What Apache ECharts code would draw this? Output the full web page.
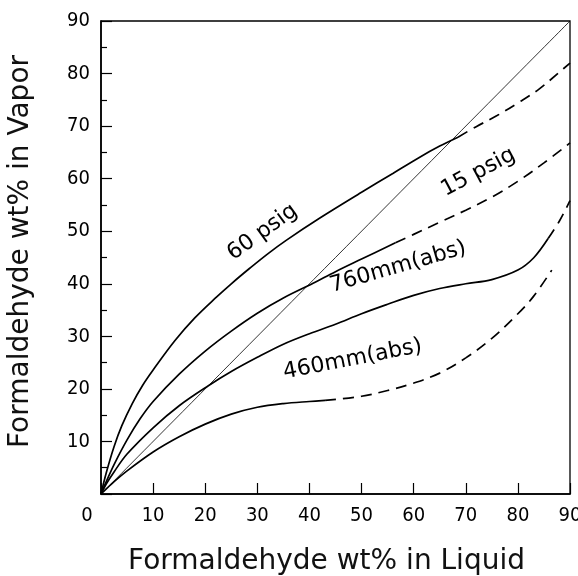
<!DOCTYPE html>
<html><head><meta charset="utf-8">
<script src="https://cdn.jsdelivr.net/npm/echarts@6/dist/echarts.min.js"></script>
<style>html,body{margin:0;padding:0;background:#fff}#c{width:578px;height:576px}</style>
</head><body><div id="c"></div>
<script>
// ---- data ----
const axisTicks = [0, 10, 20, 30, 40, 50, 60, 70, 80, 90];
const diagonal = [[0, 0], [90, 90]];
const psig60Solid = [[0,0],[1,4],[2.5,9],[4,13],[6,17.2],[8,20.7],[10,23.6],[14.2,29.2],[18,33.5],[22.2,37.5],[25,40],[28.6,43],[32,45.7],[35.6,48.3],[42,52.5],[50,57.4],[56,61],[61,64],[65,66.2],[68.5,67.9]];
const psig60Dashed = [[68.5,67.9],[72,69.9],[76,72],[80,74.4],[84,77],[88,80.3],[90,82]];
const psig15Solid = [[0,0],[1.2,2.8],[2.6,5.8],[5,10.3],[7.5,14.3],[10,17.6],[15,22.8],[20,27.2],[25,31],[30,34.4],[35,37.3],[40.7,40.1],[45,42.3],[50,44.7],[56.5,47.8]];
const psig15Dashed = [[56.5,47.8],[60,49.4],[65,51.7],[70,54],[75,56.5],[80,59.5],[85,63],[90,66.8]];
const mm760Solid = [[0,0],[1,1.9],[2.5,4.2],[5,7.6],[10,12.6],[15,16.8],[20.6,20.6],[25,23.3],[30,26],[35,28.5],[40,30.5],[45,32.3],[50,34.3],[55,36.1],[60,37.8],[65,39.1],[70,40],[75,40.8],[80,42.6],[83,44.9],[85.8,48.6]];
const mm760Dashed = [[85.8,48.6],[88,52],[90,55.8]];
const mm460Solid = [[0,0],[2,1.9],[5,4.4],[10,8],[15,10.9],[20,13.3],[25,15.2],[30,16.5],[35,17.2],[40,17.6],[43,17.8]];
const mm460Dashed = [[43,17.8],[50,18.6],[55,19.7],[60,21.1],[65,23],[70,25.9],[75,29.6],[80,34.3],[83,37.6],[86.5,42.6]];
const curveLabels = ['60 psig', '15 psig', '760mm(abs)', '460mm(abs)'];
const labelAnchors = [[31, 49.8], [72.4, 61.2], [57, 43.2], [48.3, 25.6]];
const labelAngles = [36, 28, 16, 11];

// ---- chart ----
const chart = echarts.init(document.getElementById('c'), null, {renderer: 'canvas'});
const tickFont = '"Liberation Sans Narrow", "DejaVu Sans Condensed", "Liberation Sans", sans-serif';
const titleFont = '"DejaVu Sans", sans-serif';
function lineSeries(data, dashed, width) {
  return {
    type: 'line', data: data, smooth: 0.35, showSymbol: false, symbol: 'none',
    silent: true, animation: false,
    lineStyle: {color: '#000', width: width || 1.7, type: dashed ? [11, 7] : 'solid', cap: 'butt'}
  };
}
const axisCommon = {
  type: 'value', min: 0, max: 90, interval: 10,
  axisLine: {show: true, onZero: false, lineStyle: {color: '#000', width: 1.6}},
  splitLine: {show: false},
  axisTick: {show: true, inside: true, length: 11, lineStyle: {color: '#000', width: 1.2}}
};
chart.setOption({
  backgroundColor: '#fff',
  animation: false,
  grid: {left: 101, right: 8, top: 21, bottom: 82, show: true, borderColor: '#000', borderWidth: 1.3,
    containLabel: false, outerBoundsMode: 'none'},
  xAxis: Object.assign({}, axisCommon, {
    name: 'Formaldehyde wt% in Liquid', nameLocation: 'middle', nameGap: 54,
    nameTextStyle: {fontFamily: titleFont, fontSize: 28, color: '#111', padding: [0, 18, 0, 0]},
    axisLabel: {
      margin: 12, color: '#000', fontFamily: tickFont, fontSize: 20,
      formatter: function (v) { return v === 0 ? '{z|0}' : String(v); },
      rich: {z: {fontFamily: tickFont, fontSize: 20, color: '#000', padding: [0, 28, 0, 0]}}
    }
  }),
  yAxis: Object.assign({}, axisCommon, {
    name: 'Formaldehyde wt% in Vapor', nameLocation: 'middle', nameGap: 66,
    nameTextStyle: {fontFamily: titleFont, fontSize: 28, color: '#111', padding: [0, 0, 0, 12]},
    minorTick: {show: true, splitNumber: 2, length: 6, lineStyle: {color: '#000', width: 1.2}},
    axisLabel: {margin: 11, color: '#000', fontFamily: tickFont, fontSize: 20,
      customValues: axisTicks.slice(1)}
  }),
  series: [
    lineSeries(diagonal, false, 0.8),
    lineSeries(psig60Solid, false), lineSeries(psig60Dashed, true),
    lineSeries(psig15Solid, false), lineSeries(psig15Dashed, true),
    lineSeries(mm760Solid, false), lineSeries(mm760Dashed, true),
    lineSeries(mm460Solid, false), lineSeries(mm460Dashed, true)
  ]
});
const graphics = curveLabels.map(function (t, i) {
  const p = chart.convertToPixel({gridIndex: 0}, labelAnchors[i]);
  return {
    type: 'text', x: p[0], y: p[1], rotation: labelAngles[i] * Math.PI / 180, silent: true,
    style: {text: t, fill: '#000', font: '22px "DejaVu Sans", sans-serif', align: 'center', verticalAlign: 'middle'}
  };
});
chart.setOption({graphic: graphics});
</script></body></html>
